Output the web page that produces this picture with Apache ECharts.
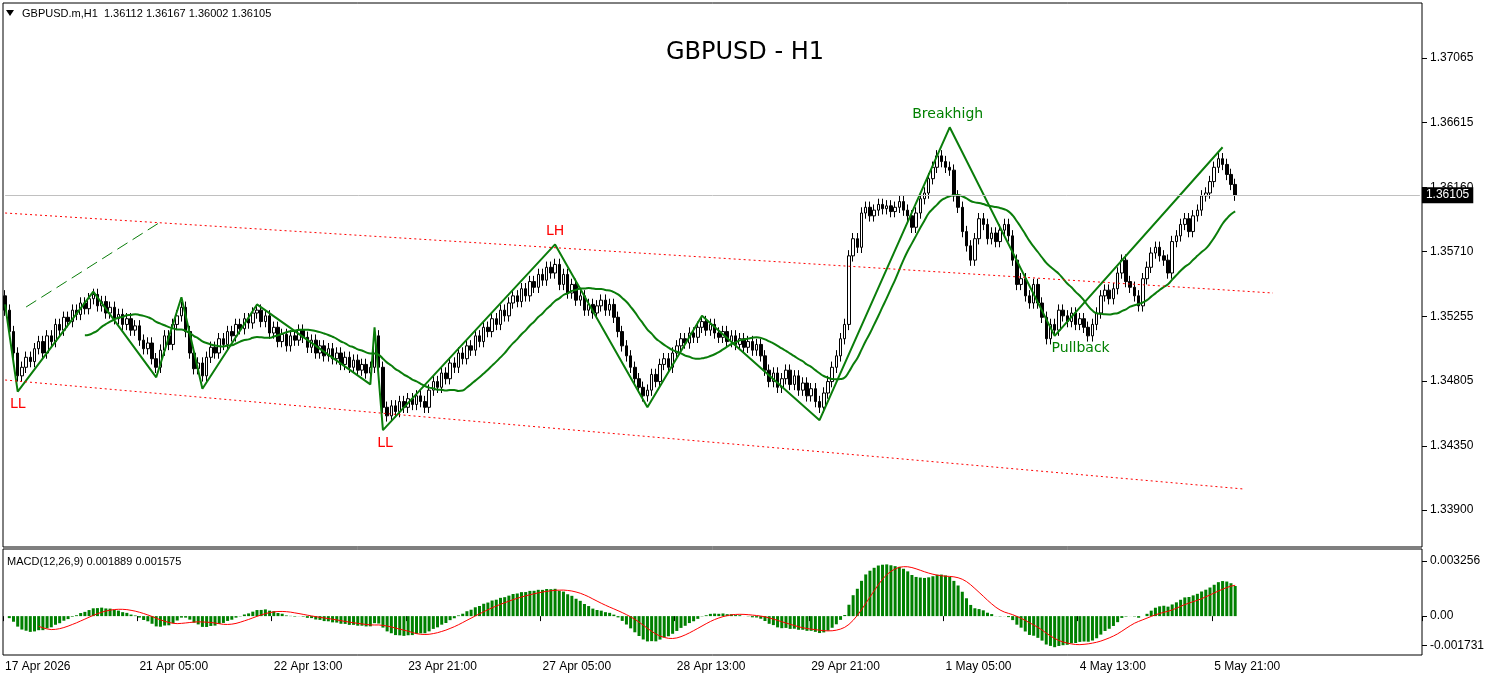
<!DOCTYPE html>
<html>
<head>
  <meta charset="utf-8">
</head>
<body style="height: 100%; margin: 0; background: #fff">
  <div id="container" style="width: 1498px; height: 679px"></div>
  <script type="text/javascript" src="https://fastly.jsdelivr.net/npm/echarts@6.0.0/dist/echarts.min.js"></script>
  <script type="text/javascript">
// hourly closes
var closes = [
  1.3530,1.3515,1.3500,1.3484,1.3490,1.3497,1.3494,1.3503,1.3508,1.3500,
  1.3512,1.3508,1.3520,1.3516,1.3525,1.3522,1.3530,1.3527,1.3535,1.3531,
  1.3538,1.3541,1.3533,1.3536,1.3528,1.3532,1.3524,1.3527,1.3520,1.3524,
  1.3516,1.3519,1.3509,1.3503,1.3507,1.3496,1.3490,1.3502,1.3512,1.3506,
  1.3520,1.3526,1.3532,1.3515,1.3500,1.3489,1.3493,1.3484,1.3497,1.3504,
  1.3500,1.3510,1.3506,1.3515,1.3512,1.3520,1.3517,1.3524,1.3521,1.3528,
  1.3530,1.3522,1.3526,1.3514,1.3518,1.3508,1.3513,1.3505,1.3512,1.3509,
  1.3516,1.3511,1.3504,1.3509,1.3500,1.3505,1.3498,1.3503,1.3496,1.3500,
  1.3492,1.3497,1.3490,1.3495,1.3488,1.3492,1.3486,1.3490,1.3512,1.3490,
  1.3462,1.3456,1.3463,1.3459,1.3466,1.3462,1.3468,1.3464,1.3470,1.3466,
  1.3462,1.3474,1.3480,1.3476,1.3486,1.3482,1.3493,1.3490,1.3500,1.3496,
  1.3505,1.3502,1.3512,1.3508,1.3518,1.3515,1.3524,1.3520,1.3530,1.3526,
  1.3535,1.3540,1.3536,1.3545,1.3540,1.3550,1.3546,1.3555,1.3551,1.3560,
  1.3556,1.3562,1.3548,1.3555,1.3542,1.3548,1.3537,1.3540,1.3530,1.3534,
  1.3528,1.3533,1.3537,1.3530,1.3534,1.3525,1.3515,1.3505,1.3498,1.3490,
  1.3482,1.3476,1.3470,1.3474,1.3485,1.3480,1.3492,1.3496,1.3490,1.3500,
  1.3505,1.3510,1.3507,1.3514,1.3511,1.3518,1.3522,1.3516,1.3520,1.3514,
  1.3511,1.3515,1.3508,1.3512,1.3506,1.3510,1.3504,1.3508,1.3502,1.3506,
  1.3498,1.3488,1.3480,1.3486,1.3476,1.3482,1.3488,1.3478,1.3484,1.3474,
  1.3479,1.3470,1.3475,1.3466,1.3462,1.3472,1.3480,1.3490,1.3498,1.3510,
  1.3520,1.3568,1.3580,1.3574,1.3598,1.3602,1.3596,1.3600,1.3604,1.3601,
  1.3603,1.3599,1.3602,1.3606,1.3600,1.3596,1.3588,1.3598,1.3608,1.3612,
  1.3622,1.3630,1.3638,1.3634,1.3630,1.3628,1.3610,1.3602,1.3585,1.3575,
  1.3565,1.3580,1.3594,1.3590,1.3580,1.3584,1.3578,1.3586,1.3590,1.3582,
  1.3565,1.3548,1.3552,1.3540,1.3535,1.3548,1.3535,1.3525,1.3510,1.3520,
  1.3516,1.3530,1.3526,1.3522,1.3528,1.3520,1.3524,1.3518,1.3512,1.3520,
  1.3528,1.3540,1.3544,1.3538,1.3545,1.3556,1.3565,1.3550,1.3546,1.3540,
  1.3533,1.3552,1.3560,1.3570,1.3574,1.3568,1.3565,1.3556,1.3578,1.3582,
  1.3590,1.3594,1.3585,1.3596,1.3600,1.3610,1.3612,1.3620,1.3630,1.3636,
  1.3632,1.3625,1.3618,1.36105
];
var firstOpen = 1.3540;
var wick = 0.0004;

// zigzag swing points [bar, price]
var zigzag = [
  [0, 1.3534], [3, 1.3473], [21, 1.3543], [36, 1.3483], [42, 1.3539], [47, 1.3475],
  [60, 1.3534], [87, 1.3478], [88, 1.3518], [90, 1.3446], [131, 1.3576], [153, 1.3462],
  [166, 1.3526], [194, 1.3453], [225, 1.3658], [250, 1.3512], [290, 1.3644]
];
var swingLabels = [
  { bar: 3, price: 1.3473, text: 'LL', color: '#ff0000', pos: 'bottom', dx: 0 },
  { bar: 90, price: 1.3446, text: 'LL', color: '#ff0000', pos: 'bottom', dx: 2 },
  { bar: 131, price: 1.3576, text: 'LH', color: '#ff0000', pos: 'top', dx: 0 },
  { bar: 225, price: 1.3658, text: 'Breakhigh', color: '#008000', pos: 'top', dx: -2 },
  { bar: 250, price: 1.3512, text: 'Pullback', color: '#008000', pos: 'bottom', dx: 26 }
];
var upperChannel = [[0, 1.35980], [302, 1.35420]];
var lowerChannel = [[0, 1.34811], [295, 1.34048]];
var greenTrend = [[5, 1.35322], [37, 1.35917]];

var priceTicks = [1.33900, 1.34350, 1.34805, 1.35255, 1.35710, 1.36160, 1.36615, 1.37065];
var macdTicks = [-0.001731, 0, 0.003256];
var timeLabels = ['17 Apr 2026', '21 Apr 05:00', '22 Apr 13:00', '23 Apr 21:00', '27 Apr 05:00',
  '28 Apr 13:00', '29 Apr 21:00', '1 May 05:00', '4 May 13:00', '5 May 21:00'];
var lastPrice = 1.36105;

var totalSlots = 338;
var cats = [];
for (var i = 0; i < totalSlots; i++) {
  cats.push(i % 32 === 0 && i / 32 < timeLabels.length ? timeLabels[i / 32] : ' ' + i);
}
var showTick = function (i) { return i % 32 === 0 && i / 32 < timeLabels.length; };

var ohlc = closes.map(function (c, i) {
  var o = i === 0 ? firstOpen : closes[i - 1];
  return [o, c, Math.min(o, c) - wick, Math.max(o, c) + wick];
});

function sma(arr, n) {
  return arr.map(function (v, i) {
    if (i < n - 1) return null;
    var s = 0;
    for (var k = i - n + 1; k <= i; k++) s += arr[k];
    return s / n;
  });
}
function ema(arr, n) {
  var a = 2 / (n + 1), out = [], prev = arr[0];
  arr.forEach(function (v) { prev = prev + a * (v - prev); out.push(prev); });
  return out;
}
var ma = sma(closes, 20);
var e12 = ema(closes, 12), e26 = ema(closes, 26);
var macd = e12.map(function (v, i) { return v - e26[i]; });
var signal = sma(macd, 9);

var dom = document.getElementById('container');
var myChart = echarts.init(dom);
var font = 'Liberation Sans';

var option = {
  backgroundColor: '#fff',
  animation: false,
  textStyle: { fontFamily: font },
  title: {
    text: 'GBPUSD - H1',
    left: 740, top: 36, textAlign: 'center',
    textStyle: { fontFamily: 'DejaVu Sans', fontSize: 24, fontWeight: 'normal', color: '#000' }
  },
  graphic: [
    { type: 'text', left: 22, top: 8, style: { text: 'GBPUSD.m,H1  1.36112 1.36167 1.36002 1.36105', font: '11px Liberation Sans', fill: '#000' } },
    { type: 'polygon', shape: { points: [[6, 10], [14, 10], [10, 16]] }, style: { fill: '#000' } },
    { type: 'text', left: 7, top: 556, style: { text: 'MACD(12,26,9) 0.001889 0.001575', font: '11px Liberation Sans', fill: '#000' } }
  ],
  grid: [
    { left: 3, right: 76, top: 3, height: 544, show: true, borderColor: '#000', borderWidth: 1 },
    { left: 3, right: 76, top: 549, height: 106, show: true, borderColor: '#000', borderWidth: 1 }
  ],
  xAxis: [
    { type: 'category', data: cats, gridIndex: 0, boundaryGap: true,
      axisLine: { show: false }, axisTick: { show: false }, axisLabel: { show: false } },
    { type: 'category', data: cats, gridIndex: 1, boundaryGap: true,
      axisLine: { show: false },
      axisTick: { show: true, interval: showTick, length: 5, lineStyle: { color: '#000' } },
      axisLabel: { show: true, interval: showTick, align: 'left', color: '#000', fontSize: 12, margin: 6 } }
  ],
  yAxis: [
    { type: 'value', gridIndex: 0, position: 'right', min: 1.33642, max: 1.37450, scale: true,
      splitLine: { show: false }, axisLine: { show: false },
      axisTick: { show: true, customValues: priceTicks, length: 5, lineStyle: { color: '#000' } },
      axisLabel: { customValues: priceTicks, color: '#000', fontSize: 12, margin: 8,
        formatter: function (v) { return v.toFixed(5); } } },
    { type: 'value', gridIndex: 1, position: 'right', min: -0.00230, max: 0.00397,
      splitLine: { show: false }, axisLine: { show: false },
      axisTick: { show: true, customValues: macdTicks, length: 5, lineStyle: { color: '#000' } },
      axisLabel: { customValues: macdTicks, color: '#000', fontSize: 12, margin: 8,
        formatter: function (v) { return v === 0 ? '0.00' : v.toFixed(6); } } }
  ],
  series: [
    {
      type: 'candlestick', xAxisIndex: 0, yAxisIndex: 0, data: ohlc, barWidth: 3,
      itemStyle: { color: '#fff', color0: '#000', borderColor: '#000', borderColor0: '#000', borderWidth: 1 },
      markLine: {
        symbol: 'none', silent: true,
        data: [
          [{ coord: upperChannel[0] }, { coord: upperChannel[1] }],
          [{ coord: lowerChannel[0] }, { coord: lowerChannel[1] }],
          [{ coord: [0, lastPrice], lineStyle: { color: '#c0c0c0', type: 'solid', width: 1 },
             label: { show: true, position: 'end', formatter: lastPrice.toFixed(5), distance: 2,
               backgroundColor: '#000', color: '#fff', fontSize: 12, padding: [2, 4] } },
           { coord: [totalSlots - 1, lastPrice] }]
        ],
        lineStyle: { color: '#ff0000', type: [2, 3], width: 1 },
        label: { show: false }
      }
    },
    {
      type: 'line', xAxisIndex: 0, yAxisIndex: 0, data: ma, showSymbol: false, smooth: true,
      lineStyle: { color: '#0a7d0a', width: 2 }
    },
    {
      type: 'line', xAxisIndex: 0, yAxisIndex: 0, data: zigzag, showSymbol: false,
      lineStyle: { color: '#0a7d0a', width: 2 },
      markPoint: {
        symbol: 'circle', symbolSize: 0,
        data: swingLabels.map(function (s) {
          return { coord: [s.bar, s.price],
            label: { show: true, formatter: s.text, position: s.pos, distance: 6, offset: [s.dx, 0],
              color: s.color, fontSize: 14, fontFamily: 'DejaVu Sans' } };
        })
      },
      markLine: {
        symbol: 'none', silent: true,
        data: [
          [{ coord: greenTrend[0] }, { coord: greenTrend[1] }]
        ],
        lineStyle: { color: '#0a7d0a', type: [12, 6], width: 1 },
        label: { show: false }
      }
    },
    {
      type: 'bar', xAxisIndex: 1, yAxisIndex: 1, data: macd, barWidth: 3,
      itemStyle: { color: '#008000' }
    },
    {
      type: 'line', xAxisIndex: 1, yAxisIndex: 1, data: signal, showSymbol: false,
      lineStyle: { color: '#ff0000', width: 1 }
    }
  ]
};

myChart.setOption(option);
window.addEventListener('resize', myChart.resize);
  </script>
</body>
</html>
